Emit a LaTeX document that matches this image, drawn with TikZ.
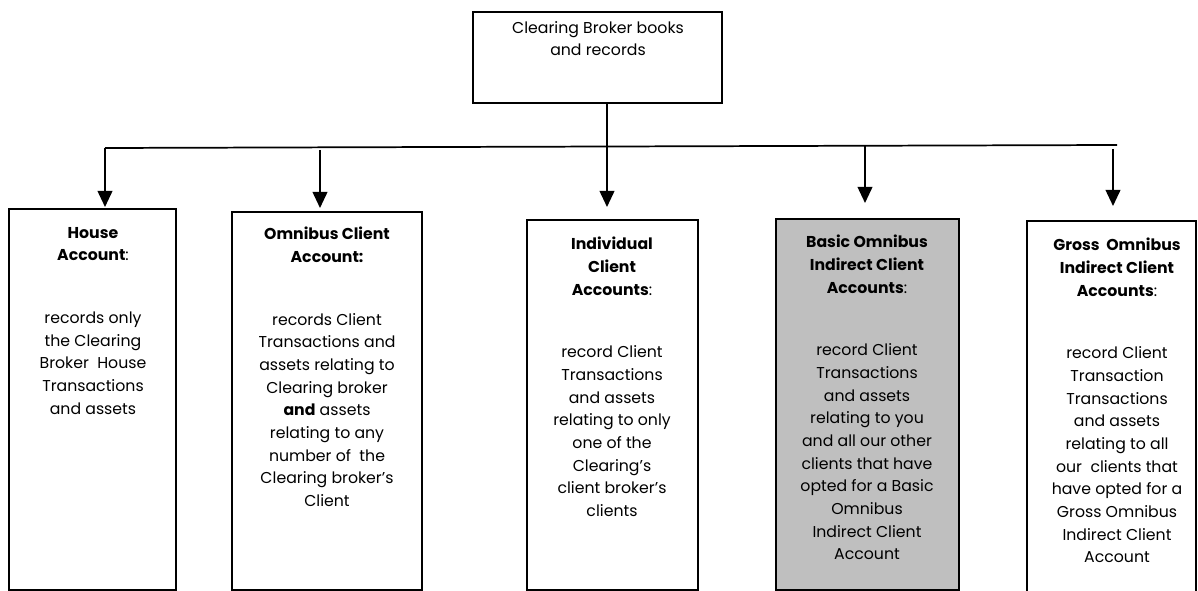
\documentclass[tikz,border=0pt]{standalone}
\usepackage{fontspec}
\setmainfont{Poppins}
\usetikzlibrary{arrows.meta,fit}
\begin{document}
\begin{tikzpicture}[x=0.75pt,y=-0.75pt,
  box/.style={draw, line width=1.3pt, inner sep=0pt},
  greybox/.style={box, fill=boxgrey},
  txt/.style={align=center, inner sep=0pt, anchor=north, font=\fontsize{11.8}{17}\selectfont},
  arr/.style={line width=1.3pt, -{Triangle[width=11pt,length=12pt]}},
  ln/.style={line width=1.3pt}]
\definecolor{boxgrey}{HTML}{BFBFBF}
\useasboundingbox (0,0) rectangle (1198,591);
\clip (0,0) rectangle (1198,591);
% boxes
\node[box, fit={(473,12) (722,103)}] (top) {};
\node[box, fit={(9,209) (176,590)}] (house) {};
\node[box, fit={(232,212) (422,590)}] (omni) {};
\node[box, fit={(527,220) (698,590)}] (indiv) {};
\node[greybox, fit={(776,219) (959,590)}] (basic) {};
\node[box, fit={(1027,221) (1196,640)}] (gross) {};
% texts
\node[txt] (topT) at (598,21) {Clearing Broker books\\and records};
\node[txt] (houseT) at (93,227) {\textbf{House}\\\textbf{Account}:\\[30pt]records only\\the Clearing\\Broker~~House\\Transactions\\and assets};
\node[txt] (omniT) at (327,227) {\textbf{Omnibus Client}\\\textbf{Account:}\\[30pt]records Client\\Transactions and\\assets relating to\\Clearing broker\\\textbf{and} assets\\relating to any\\number of~ the\\Clearing broker’s\\Client};
\node[txt] (indivT) at (612,237) {\textbf{Individual}\\\textbf{Client}\\\textbf{Accounts}:\\[30pt]record Client\\Transactions\\and assets\\relating to only\\one of the\\Clearing’s\\client broker’s\\clients};
\node[txt] (basicT) at (867,235) {\textbf{Basic Omnibus}\\\textbf{Indirect Client}\\\textbf{Accounts}:\\[30pt]record Client\\Transactions\\and assets\\relating to you\\and all our other\\clients that have\\opted for a Basic\\Omnibus\\Indirect Client\\Account};
\node[txt] (grossT) at (1117,238) {\textbf{Gross~~Omnibus}\\\textbf{Indirect Client}\\\textbf{Accounts}:\\[30pt]record Client\\Transaction\\Transactions\\and assets\\relating to all\\our~~clients that\\have opted for a\\Gross Omnibus\\Indirect Client\\Account};
% connector coordinates
\coordinate (busL) at (105,148);
\coordinate (busR) at (1117,145);
\coordinate (busM) at (607,147);
\coordinate (s2) at (320,150);
\coordinate (s4) at (865,146);
\coordinate (s5) at (1113,149);
\coordinate (e1) at (105,207);
\coordinate (e2) at (320,208);
\coordinate (e3) at (607,207);
\coordinate (e4) at (865,203);
\coordinate (e5) at (1113,206);
% connectors
\draw[ln] (top.south -| busM) -- (busM);
\draw[ln] (busL) -- (busR);
\draw[arr] (busL) -- (e1);
\draw[arr] (s2) -- (e2);
\draw[arr] (busM) -- (e3);
\draw[arr] (s4) -- (e4);
\draw[arr] (s5) -- (e5);
\end{tikzpicture}
\end{document}
